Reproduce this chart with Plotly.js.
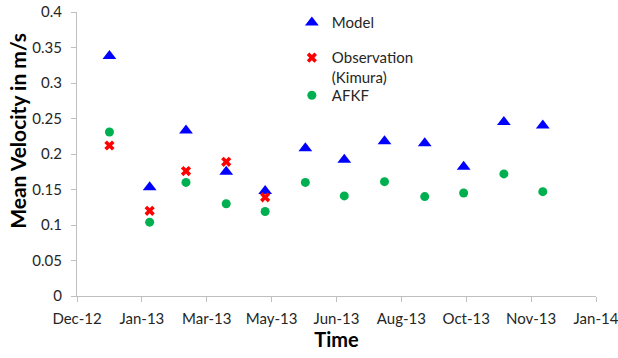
<!DOCTYPE html>
<html>
<head>
<meta charset="utf-8">
<script src="https://cdn.plot.ly/plotly-3.0.1.min.js"></script>
<style>html,body{margin:0;padding:0;background:#fff;}#chart{width:618px;height:358px;}</style>
</head>
<body>
<div id="chart"></div>
<script>
// Monthly sample dates
const dates = ['2013-01-01','2013-02-01','2013-03-01','2013-04-01','2013-05-01','2013-06-01',
               '2013-07-01','2013-08-01','2013-09-01','2013-10-01','2013-11-01','2013-12-01'];
const modelValues = [0.338, 0.153, 0.233, 0.175, 0.148, 0.208, 0.192, 0.218, 0.215, 0.182, 0.245, 0.240];
const obsDates = ['2013-01-01','2013-02-01','2013-03-01','2013-04-01','2013-05-01'];
const obsValues = [0.212, 0.120, 0.176, 0.189, 0.139];
const afkfValues = [0.231, 0.104, 0.160, 0.130, 0.119, 0.160, 0.141, 0.161, 0.140, 0.145, 0.172, 0.147];
const seriesNames = ['Model', 'Observation<br>(Kimura)', 'AFKF'];

const FONT = 'Lato, "Open Sans", sans-serif';
const axisGray = '#bfbfbf';
const textCol = '#262626';

const traces = [
  {x: dates, y: modelValues, name: seriesNames[0], mode: 'markers', type: 'scatter',
   marker: {symbol: 'triangle-up', size: 12, color: '#0000ff'}, legend: 'legend'},
  {x: obsDates, y: obsValues, name: seriesNames[1], mode: 'markers', type: 'scatter',
   marker: {symbol: 'x', size: 9, color: '#ff0000'}, legend: 'legend2'},
  {x: dates, y: afkfValues, name: seriesNames[2], mode: 'markers', type: 'scatter',
   marker: {symbol: 'circle', size: 9, color: '#00b050'}, legend: 'legend3'}
];

const legendBase = {xref: 'paper', yref: 'paper', xanchor: 'left', yanchor: 'middle',
  bgcolor: 'rgba(0,0,0,0)', font: {family: FONT, size: 15, color: textCol}, valign: 'top'};

const layout = {
  width: 618, height: 358,
  margin: {l: 77, r: 22, t: 12, b: 62, autoexpand: false},
  paper_bgcolor: '#fff', plot_bgcolor: '#fff',
  font: {family: FONT, size: 15, color: textCol},
  xaxis: {
    type: 'date',
    range: ['2012-12-07', '2014-01-11'],
    tick0: '2012-12-07', dtick: 50 * 86400000,
    tickformat: '%b-%y',
    showgrid: false, zeroline: false,
    showline: true, linecolor: axisGray, linewidth: 1,
    ticks: 'outside', ticklen: 5, tickcolor: axisGray,
    ticklabelstandoff: 4, ticklabeloverflow: 'allow',
    automargin: false,
    tickfont: {family: FONT, size: 15, color: textCol},
    title: {text: '<b>Time</b>', font: {family: FONT, size: 20, color: '#000'}, standoff: 6}
  },
  yaxis: {
    range: [0, 0.4], dtick: 0.05,
    showgrid: false, zeroline: false,
    showline: true, linecolor: axisGray, linewidth: 1,
    ticks: 'outside', ticklen: 5, tickcolor: axisGray,
    ticklabelstandoff: 6, automargin: false,
    tickfont: {family: FONT, size: 15, color: textCol}
  },
  showlegend: true,
  legend: Object.assign({}, legendBase, {x: 0.414, y: 0.962}),
  legend2: Object.assign({}, legendBase, {x: 0.414, y: 0.805}),
  legend3: Object.assign({}, legendBase, {x: 0.414, y: 0.706}),
  annotations: [{
    text: '<b>Mean Velocity in m/s</b>', textangle: -90,
    xref: 'paper', yref: 'paper', x: -0.114, y: 0.581,
    xanchor: 'center', yanchor: 'middle', showarrow: false,
    font: {family: FONT, size: 21, color: '#000'}
  }]
};

Plotly.newPlot('chart', traces, layout, {displayModeBar: false, staticPlot: true});
</script>
</body>
</html>
